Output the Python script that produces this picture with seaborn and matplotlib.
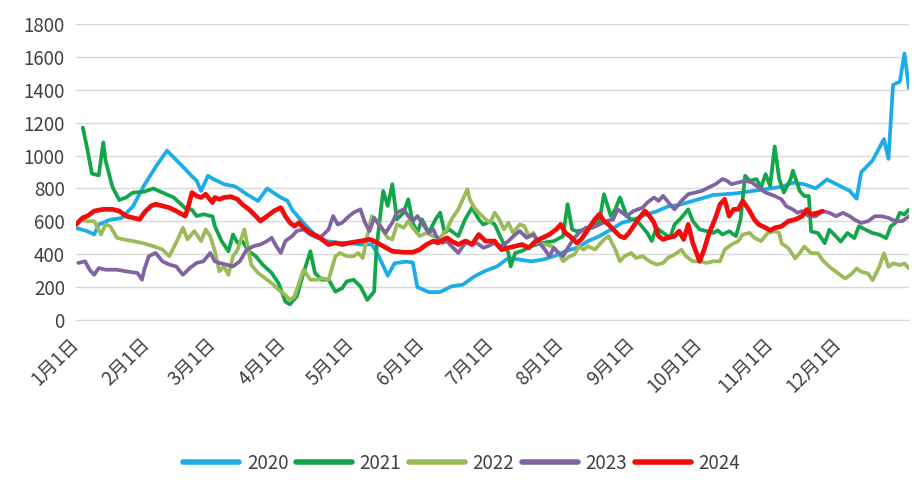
import pandas as pd
import matplotlib
matplotlib.use("Agg")
import matplotlib.pyplot as plt
import seaborn as sns

# 数据：每年按日（自1月1日起的天数）读取的数值
years = ["2020", "2021", "2022", "2023", "2024"]
colors = ["#1CACE8", "#12A54A", "#9BBB59", "#8064A2", "#F20D0D"]

days_2020 = [0, 5, 8, 10, 15, 20, 25, 30, 35, 40, 45, 48, 50, 53, 55, 58, 60, 65, 70, 75,
             80, 84, 90, 93, 95, 100, 102, 105, 110, 115, 120, 125, 130, 133, 137, 140, 145, 148, 150, 155,
             160, 165, 170, 175, 180, 185, 190, 195, 200, 205, 210, 215, 220, 225, 230, 235, 240, 245, 250, 255,
             260, 265, 270, 275, 280, 285, 290, 295, 300, 305, 310, 315, 320, 325, 330, 335, 340, 343, 345, 350,
             355, 357, 359, 362, 364, 366]
vals_2020 = [560, 540, 520, 580, 610, 620, 690, 820, 930, 1030, 960, 918, 887, 847, 785, 877, 860, 826, 812, 765,
             724, 800, 745, 724, 670, 590, 560, 520, 480, 470, 469, 459, 460, 390, 270, 345, 355, 350, 200, 170,
             170, 205, 215, 265, 300, 326, 377, 367, 357, 367, 388, 418, 439, 480, 510, 550, 592, 610, 640, 660,
             690, 700, 720, 740, 760, 765, 770, 780, 790, 800, 810, 835, 826, 800, 855, 820, 785, 738, 898, 970,
             1100, 980, 1430, 1450, 1620, 1410]

days_2021 = [3, 5, 7, 10, 12, 13, 16, 19, 22, 25, 30, 34, 38, 43, 48, 51, 53, 56, 60, 61,
             64, 67, 69, 71, 73, 76, 79, 82, 86, 89, 92, 94, 97, 100, 103, 105, 108, 111, 114, 117,
             119, 122, 125, 128, 131, 132, 134, 135, 137, 139, 141, 144, 146, 148, 150, 152, 155, 158, 160, 162,
             164, 168, 171, 174, 177, 179, 182, 184, 187, 190, 191, 193, 196, 200, 205, 210, 214, 216, 218, 220,
             224, 227, 230, 232, 235, 237, 239, 242, 244, 246, 251, 253, 255, 258, 261, 263, 266, 269, 271, 274,
             277, 280, 282, 284, 287, 290, 292, 294, 296, 299, 301, 303, 305, 307, 309, 311, 314, 315, 318, 320,
             322, 323, 326, 329, 331, 334, 336, 339, 342, 344, 347, 350, 353, 356, 358, 360, 362, 364, 366]
vals_2021 = [1170, 1040, 890, 880, 1080, 970, 810, 730, 745, 775, 780, 800, 775, 745, 680, 670, 632, 643, 630, 571,
             480, 418, 520, 469, 480, 418, 388, 337, 286, 224, 112, 95, 143, 286, 418, 286, 245, 245, 173, 194,
             235, 245, 204, 122, 173, 428, 673, 785, 694, 826, 612, 653, 734, 592, 530, 612, 530, 612, 653, 530,
             551, 510, 612, 683, 612, 581, 600, 581, 490, 408, 326, 408, 420, 449, 469, 480, 510, 704, 551, 540,
             551, 580, 602, 765, 632, 673, 745, 632, 612, 612, 530, 480, 561, 530, 500, 581, 622, 673, 602, 551,
             541, 530, 545, 520, 540, 510, 612, 877, 847, 857, 806, 887, 816, 1055, 857, 775, 857, 908, 785, 754,
             754, 539, 529, 467, 549, 508, 477, 529, 498, 570, 549, 529, 519, 498, 570, 590, 652, 642, 672]

days_2022 = [0, 2, 5, 8, 11, 13, 15, 18, 21, 25, 29, 34, 38, 41, 44, 47, 49, 52, 55, 57,
             59, 61, 63, 65, 67, 69, 71, 74, 77, 80, 83, 86, 89, 92, 94, 96, 98, 100, 103, 106,
             108, 111, 114, 116, 119, 122, 124, 126, 128, 130, 133, 135, 137, 139, 141, 144, 146, 148, 151, 154,
             157, 160, 163, 165, 168, 170, 172, 173, 175, 177, 180, 182, 184, 186, 188, 190, 192, 195, 197, 199,
             201, 203, 206, 209, 212, 214, 217, 219, 221, 223, 225, 228, 230, 232, 234, 237, 239, 241, 244, 246,
             249, 252, 255, 258, 260, 263, 266, 268, 271, 274, 277, 280, 283, 285, 288, 291, 293, 296, 298, 301,
             304, 307, 309, 310, 313, 316, 318, 320, 323, 326, 328, 331, 335, 338, 341, 343, 345, 348, 350, 353,
             355, 357, 359, 362, 364, 366]
vals_2022 = [580, 612, 600, 602, 520, 581, 571, 500, 490, 480, 469, 449, 428, 388, 469, 561, 490, 541, 480, 551,
             510, 420, 296, 326, 275, 388, 428, 551, 337, 286, 255, 224, 184, 153, 122, 143, 224, 306, 245, 245,
             255, 245, 388, 408, 388, 388, 408, 377, 510, 632, 592, 541, 500, 490, 581, 561, 602, 561, 510, 530,
             510, 500, 551, 612, 673, 734, 796, 734, 683, 653, 612, 592, 653, 612, 551, 592, 530, 581, 571, 510,
             530, 469, 459, 449, 408, 357, 388, 398, 449, 428, 449, 428, 459, 490, 510, 428, 357, 388, 408, 377,
             388, 357, 337, 347, 377, 398, 428, 388, 357, 357, 347, 357, 357, 428, 459, 480, 520, 530, 500, 480,
             530, 540, 529, 467, 437, 375, 406, 447, 406, 406, 365, 324, 283, 252, 283, 314, 293, 283, 242, 324,
             406, 324, 344, 334, 344, 314]

days_2023 = [1, 4, 6, 8, 10, 13, 18, 22, 27, 29, 30, 32, 35, 38, 41, 44, 47, 50, 53, 56,
             59, 61, 63, 66, 69, 72, 75, 78, 81, 84, 86, 88, 90, 92, 95, 97, 100, 103, 106, 108,
             111, 113, 115, 117, 120, 122, 125, 127, 129, 131, 133, 136, 139, 141, 144, 146, 148, 150, 152, 155,
             157, 159, 161, 163, 165, 168, 170, 172, 174, 176, 179, 181, 184, 187, 190, 193, 195, 198, 201, 203,
             206, 208, 210, 212, 214, 217, 219, 221, 224, 227, 230, 233, 236, 238, 240, 242, 245, 247, 249, 251,
             254, 256, 258, 261, 263, 266, 269, 272, 275, 278, 281, 284, 286, 288, 291, 294, 297, 300, 303, 305,
             307, 310, 312, 315, 317, 319, 322, 325, 328, 331, 334, 337, 340, 342, 345, 348, 351, 354, 357, 360,
             363, 366]
vals_2023 = [347, 357, 306, 275, 316, 306, 306, 296, 286, 245, 306, 388, 408, 357, 337, 326, 275, 316, 347, 357,
             408, 357, 347, 337, 326, 357, 428, 449, 459, 480, 500, 449, 408, 480, 510, 541, 551, 520, 500, 510,
             551, 632, 581, 592, 632, 653, 673, 592, 541, 622, 581, 530, 592, 653, 673, 632, 602, 632, 592, 530,
             551, 490, 469, 480, 449, 408, 449, 480, 459, 469, 439, 449, 469, 449, 480, 520, 541, 500, 520, 480,
             428, 388, 439, 408, 388, 459, 500, 530, 561, 561, 581, 602, 612, 673, 653, 632, 663, 673, 683, 714,
             745, 724, 755, 704, 673, 724, 765, 775, 785, 806, 826, 857, 847, 826, 836, 847, 836, 806, 775, 765,
             754, 734, 693, 672, 652, 662, 631, 631, 662, 652, 631, 652, 631, 611, 590, 601, 631, 631, 621, 601,
             601, 631]

days_2024 = [0, 3, 5, 8, 12, 16, 19, 22, 25, 28, 30, 33, 35, 38, 41, 44, 48, 49, 51, 53,
             55, 57, 60, 61, 63, 65, 68, 71, 73, 76, 79, 81, 84, 87, 90, 92, 94, 96, 98, 100,
             103, 106, 109, 111, 114, 117, 120, 125, 129, 131, 135, 139, 144, 148, 151, 154, 157, 159, 163, 165,
             168, 171, 174, 177, 180, 184, 185, 187, 190, 193, 196, 199, 202, 205, 208, 211, 213, 215, 217, 220,
             222, 225, 228, 230, 232, 234, 236, 239, 241, 243, 245, 247, 250, 252, 254, 256, 258, 260, 263, 265,
             267, 269, 271, 274, 276, 278, 281, 283, 285, 287, 289, 291, 293, 296, 298, 300, 303, 305, 307, 310,
             313, 316, 319, 321, 323, 326, 328]
vals_2024 = [581, 622, 632, 663, 673, 673, 663, 632, 622, 612, 653, 694, 704, 694, 683, 663, 632, 673, 775, 755,
             745, 765, 714, 745, 734, 745, 750, 734, 704, 673, 632, 602, 632, 663, 683, 632, 592, 571, 592, 561,
             530, 510, 480, 459, 469, 459, 469, 480, 490, 480, 449, 418, 412, 412, 428, 459, 480, 469, 500, 480,
             459, 480, 459, 520, 480, 480, 459, 428, 439, 449, 459, 439, 480, 500, 520, 551, 581, 530, 510, 469,
             490, 551, 612, 643, 602, 581, 551, 510, 500, 530, 571, 612, 663, 632, 592, 510, 490, 500, 510, 541,
             490, 581, 469, 357, 428, 520, 622, 704, 734, 632, 673, 673, 724, 663, 612, 581, 561, 545, 560, 570,
             601, 611, 631, 672, 642, 652, 662]

day_lists = [days_2020, days_2021, days_2022, days_2023, days_2024]
val_lists = [vals_2020, vals_2021, vals_2022, vals_2023, vals_2024]

# 月初刻度（闰年）
month_starts = [0, 31, 60, 91, 121, 152, 182, 213, 244, 274, 305, 335, 366]
month_labels = ["1月1日", "2月1日", "3月1日", "4月1日", "5月1日", "6月1日", "7月1日",
                "8月1日", "9月1日", "10月1日", "11月1日", "12月1日", ""]

frames = []
for y, d, v in zip(years, day_lists, val_lists):
    frames.append(pd.DataFrame({"day": d, "value": v, "year": y}))
df = pd.concat(frames, ignore_index=True)

sns.set_style("white")
plt.rcParams["font.family"] = ["Noto Sans CJK SC", "DejaVu Sans"]
text_color = "#404040"
grid_color = "#D9D9D9"

fig = plt.figure(figsize=(9.23, 4.84), dpi=100)
ax = fig.add_axes([0.0823, 0.3388, 0.9025, 0.6116])

for y, c in zip(years, colors):
    lw = 3.4 if y == "2024" else 2.7
    sns.lineplot(data=df[df["year"] == y], x="day", y="value", color=c, linewidth=lw,
                 estimator=None, ax=ax, label=y)

ax.set_xlim(0, 366)
ax.set_ylim(0, 1800)
ax.set_yticks(range(0, 1801, 200))
ax.set_xticks(month_starts)
ax.set_xticklabels(month_labels, rotation=45, ha="right", va="center", rotation_mode="anchor")
ax.set_xlabel("")
ax.set_ylabel("")
ax.grid(axis="y", color=grid_color, linewidth=1)
ax.set_axisbelow(True)
for side in ["top", "right", "left"]:
    ax.spines[side].set_visible(False)
ax.spines["bottom"].set_color(grid_color)
ax.tick_params(axis="x", length=7, color=grid_color, labelsize=13.5, labelcolor=text_color, pad=8)
ax.tick_params(axis="y", length=0, labelsize=13.5, labelcolor=text_color, pad=8)

handles, labels = ax.get_legend_handles_labels()
ax.get_legend().remove()
leg = fig.legend(handles, labels, loc="center", bbox_to_anchor=(0.5, 0.043), ncol=5, frameon=False,
                 fontsize=13.5, handlelength=3.0, handletextpad=0.4, columnspacing=0.4)
for t in leg.get_texts():
    t.set_color(text_color)
for h in leg.get_lines():
    h.set_linewidth(4)

fig.savefig("out.png", dpi=100)
